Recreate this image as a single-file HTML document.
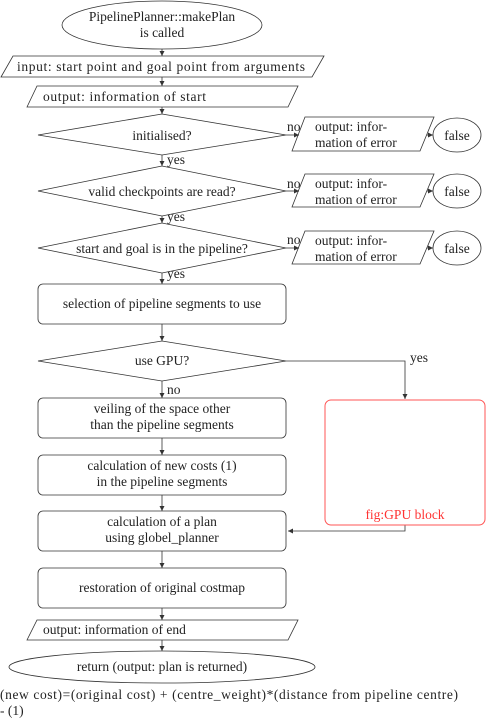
<!DOCTYPE html>
<html><head><style>
html,body{margin:0;padding:0;background:#fff;}
svg{display:block;}
svg text{font-family:"Liberation Serif","DejaVu Serif","Times New Roman",Times,serif;font-size:13.5px;fill:#222;}
</style></head><body>
<svg width="486" height="719" viewBox="0 0 486 719" xmlns="http://www.w3.org/2000/svg" font-family="Liberation Serif, DejaVu Serif, serif">
<defs><marker id="a" markerWidth="6" markerHeight="6" refX="5" refY="3" orient="auto" markerUnits="userSpaceOnUse"><path d="M0,0.5 L5,3 L0,5.5 z" fill="#333"/></marker></defs>
<g fill="none" stroke="#333" stroke-width="0.8">
<ellipse cx="162" cy="25" rx="100" ry="24"/>
<polygon points="1,77 13,56 324,56 312,77"/>
<polygon points="27,107 37,86 298,86 288,107"/>
<polygon points="38,135 162,114 286,135 162,155"/>
<polygon points="38,191 162,166 286,191 162,216"/>
<polygon points="38,248 162,223 286,248 162,273"/>
<rect x="38" y="284" width="248" height="40" rx="5"/>
<polygon points="38,361 162,341 286,361 162,381"/>
<rect x="38" y="398" width="248" height="40" rx="5"/>
<rect x="38" y="455" width="248" height="40" rx="5"/>
<rect x="38" y="511" width="248" height="40" rx="5"/>
<rect x="38" y="568" width="248" height="40" rx="5"/>
<polygon points="27,640 37,620 298,620 288,640"/>
<ellipse cx="162" cy="667" rx="153" ry="16"/>
<polygon points="292,151 305,117 434,117 420,151"/>
<polygon points="292,207 305,174 434,174 420,207"/>
<polygon points="292,264 305,231 434,231 420,264"/>
<ellipse cx="457" cy="135" rx="24" ry="17"/>
<ellipse cx="457" cy="191" rx="24" ry="17"/>
<ellipse cx="457" cy="248" rx="24" ry="17"/>
<g marker-end="url(#a)">
<line x1="162" y1="49" x2="162" y2="56"/>
<line x1="162" y1="77" x2="162" y2="86"/>
<line x1="162" y1="107" x2="162" y2="114"/>
<line x1="162" y1="155" x2="162" y2="166"/>
<line x1="162" y1="216" x2="162" y2="223"/>
<line x1="162" y1="273" x2="162" y2="284"/>
<line x1="162" y1="324" x2="162" y2="341"/>
<line x1="162" y1="381" x2="162" y2="398"/>
<line x1="162" y1="438" x2="162" y2="455"/>
<line x1="162" y1="495" x2="162" y2="511"/>
<line x1="162" y1="551" x2="162" y2="568"/>
<line x1="162" y1="608" x2="162" y2="620"/>
<line x1="162" y1="640" x2="162" y2="651"/>
<line x1="286" y1="135" x2="299" y2="135"/>
<line x1="286" y1="191" x2="299" y2="191"/>
<line x1="286" y1="248" x2="299" y2="248"/>
<line x1="427" y1="135" x2="433" y2="135"/>
<line x1="427" y1="191" x2="433" y2="191"/>
<line x1="427" y1="248" x2="433" y2="248"/>
<polyline points="286,361 405,361 405,399"/>
<polyline points="405,525 405,531 288,531"/>
</g>
</g>
<rect x="325" y="400" width="160" height="125" rx="6" fill="none" stroke="#f55" stroke-width="1"/>
<text x="162" y="21" text-anchor="middle">PipelinePlanner::makePlan</text>
<text x="162" y="37" text-anchor="middle">is called</text>
<text x="17" y="71" textLength="288" lengthAdjust="spacing">input: start point and goal point from arguments</text>
<text x="43" y="101" textLength="163" lengthAdjust="spacing">output: information of start</text>
<text x="162" y="140" text-anchor="middle">initialised?</text>
<text x="162" y="196" text-anchor="middle">valid checkpoints are read?</text>
<text x="162" y="253" text-anchor="middle">start and goal is in the pipeline?</text>
<text x="287" y="131">no</text><text x="287" y="188">no</text><text x="287" y="244">no</text>
<text x="315" y="131">output: infor-</text><text x="315" y="147">mation of error</text>
<text x="315" y="188">output: infor-</text><text x="315" y="204">mation of error</text>
<text x="315" y="245">output: infor-</text><text x="315" y="261">mation of error</text>
<text x="457" y="140" text-anchor="middle">false</text>
<text x="457" y="196" text-anchor="middle">false</text>
<text x="457" y="253" text-anchor="middle">false</text>
<text x="167" y="164">yes</text><text x="167" y="221">yes</text><text x="167" y="278">yes</text>
<text x="162" y="308" text-anchor="middle">selection of pipeline segments to use</text>
<text x="162" y="365" text-anchor="middle">use GPU?</text>
<text x="410" y="362">yes</text>
<text x="167" y="394">no</text>
<text x="162" y="413" text-anchor="middle">veiling of the space other</text>
<text x="162" y="429" text-anchor="middle">than the pipeline segments</text>
<text x="162" y="470" text-anchor="middle">calculation of new costs (1)</text>
<text x="162" y="486" text-anchor="middle">in the pipeline segments</text>
<text x="162" y="526" text-anchor="middle">calculation of a plan</text>
<text x="162" y="542" text-anchor="middle">using globel_planner</text>
<text x="162" y="592" text-anchor="middle">restoration of original costmap</text>
<text x="43" y="634">output: information of end</text>
<text x="162" y="671" text-anchor="middle">return (output: plan is returned)</text>
<text x="405" y="519" text-anchor="middle" style="fill:#f33">fig:GPU block</text>
<text x="0" y="699" textLength="458" lengthAdjust="spacing">(new cost)=(original cost) + (centre_weight)*(distance from pipeline centre)</text>
<text x="0" y="715">- (1)</text>
</svg>
</body></html>
